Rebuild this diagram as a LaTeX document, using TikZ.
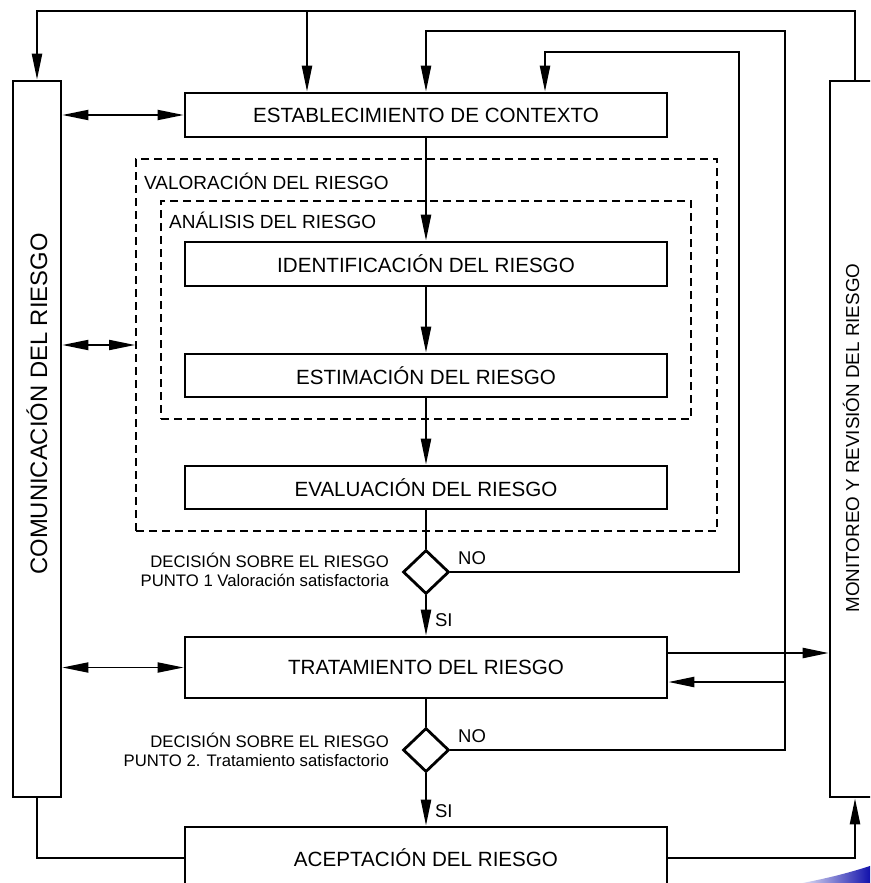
\documentclass[tikz,border=0pt]{standalone}
\usepackage{fontspec}
\setmainfont{Liberation Sans}
\usetikzlibrary{arrows.meta,shapes.geometric,calc}
\begin{document}
\begin{tikzpicture}[x=1pt,y=-1pt,
  line width=2.3pt,
  procbox/.style={draw, line width=2.6pt, minimum width=482pt, inner sep=0pt, font=\fontsize{20.6}{24}\selectfont},
  dashbox/.style={draw, line width=1.8pt, dash pattern=on 8pt off 5pt, inner sep=0pt},
  sidebox/.style={draw, line width=2.6pt, inner sep=0pt},
  decis/.style={draw, diamond, line width=2.8pt, minimum width=46pt, minimum height=44pt, inner sep=0pt},
  arr/.style={-{Triangle[length=26pt,width=10pt]}},
  darr/.style={{Triangle[length=26pt,width=10pt]}-{Triangle[length=26pt,width=10pt]}},
  lbl/.style={font=\fontsize{19}{22}\selectfont, inner sep=0pt},
  yn/.style={font=\fontsize{18.5}{22}\selectfont, inner sep=0pt},
  small/.style={font=\fontsize{16.7}{19.5}\selectfont, inner sep=0pt, align=right},
  vtext/.style={rotate=90, inner sep=0pt}
]
\useasboundingbox (0,0) rectangle (870,883);
\clip (0,0) rectangle (870,883);

% side boxes
\node[sidebox, minimum width=48pt, minimum height=716pt] (com) at (37,439) {};
\node[sidebox, minimum width=56pt, minimum height=716pt] (mon) at (858,439) {};
\node[vtext, font=\fontsize{23.8}{28}\selectfont] (comt) at (37,404) {COMUNICACIÓN DEL RIESGO};
\node[vtext, font=\fontsize{18.8}{23}\selectfont] (mont) at (851,438) {MONITOREO Y REVISIÓN DEL RIESGO};

% dashed groups
\node[dashbox, minimum width=581pt, minimum height=372pt] (valo) at (426.5,345) {};
\node[dashbox, minimum width=530pt, minimum height=218pt] (anal) at (426,310) {};
\node[lbl, anchor=west] (valot) at (143,181) {VALORACIÓN DEL RIESGO};
\node[lbl, anchor=west] (analt) at (168,220) {ANÁLISIS DEL RIESGO};

% process boxes
\node[procbox, minimum height=44pt] (est) at (426,115) {ESTABLECIMIENTO DE CONTEXTO};
\node[procbox, minimum height=44pt] (ident) at (426,264) {IDENTIFICACIÓN DEL RIESGO};
\node[procbox, minimum height=43pt] (estim) at (426,375.5) {ESTIMACIÓN DEL RIESGO};
\node[procbox, minimum height=43pt] (eval) at (426,487.5) {EVALUACIÓN DEL RIESGO};
\node[procbox, minimum height=61pt] (trat) at (426,667.5) {TRATAMIENTO DEL RIESGO};
\node[procbox, minimum height=62pt] (acep) at (426,858) {ACEPTACIÓN DEL RIESGO};

% decisions
\node[decis] (d1) at (426,572) {};
\node[decis] (d2) at (426,750) {};
\node[small, anchor=east] (d1t) at (390,570) {DECISIÓN SOBRE EL RIESGO\\PUNTO 1 Valoración satisfactoria};
\node[small, anchor=east] (d2t) at (390,750) {DECISIÓN SOBRE EL RIESGO\\PUNTO 2. Tratamiento satisfactorio};
\node[yn, anchor=west] (no1) at (457,558) {NO};
\node[yn, anchor=west] (no2) at (457,736) {NO};

% helper coordinates
\coordinate (tr) at (855,11);
\coordinate (tl) at (37,11);
\coordinate (t2) at (307,11);
\coordinate (l2a) at (785,31);
\coordinate (l3a) at (739,52);
\coordinate (l3b) at (545,52);
\coordinate (br) at (785,682);
\coordinate (tm) at (667,653);

% top feedback
\draw[arr] (tr |- mon.north) -- (tr) -- (tl) -- (com.north);
\draw[arr] (t2) -- (t2 |- est.north);
% loop from decision 2
\draw[arr] (d2.east) -| (l2a) -| (est.north);
\draw[arr] (br) -- (br -| trat.east);
% loop from decision 1
\draw[arr] (d1.east) -| (l3a) -- (l3b) -- (l3b |- est.north);

% main chain
\draw[arr] (est) -- (ident);
\draw[arr] (ident) -- (estim);
\draw[arr] (estim) -- (eval);
\draw (eval) -- (d1);
\draw[arr] (d1) -- node[yn, right=8pt, pos=0.62] (si1) {SI} (trat);
\draw (trat) -- (d2);
\draw[arr] (d2) -- node[yn, right=8pt, pos=0.72] (si2) {SI} (acep);

% communication arrows
\draw[darr, line width=1.8pt] (est.west -| com.east) -- (est.west);
\draw[darr, line width=1.8pt] (valo.west -| com.east) -- (valo.west);
\draw[darr, line width=1.8pt] (trat.west -| com.east) -- (trat.west);

% monitoring arrows
\draw[arr] (tm) -- (tm -| mon.west);
\draw (com.south) |- (acep.west);
\draw[arr] (acep.east) -| (tr |- mon.south);

% decorative swoosh
\shade[left color=white, right color=blue!65!black, draw=none] (792,885) .. controls (830,878) and (852,872) .. (876,864) -- (876,890) -- (792,890) -- cycle;
\end{tikzpicture}
\end{document}
